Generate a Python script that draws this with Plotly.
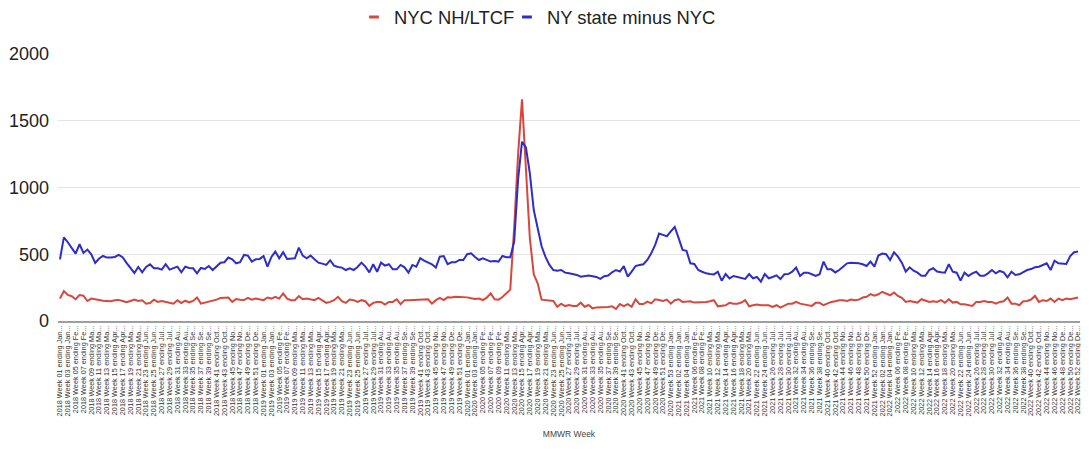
import datetime as dt
import plotly.graph_objects as go

# ---- data ----
years = [2018, 2019, 2020, 2021, 2022]
weeks_in_year = [52, 52, 53, 52, 52]
first_week_end = dt.date(2018, 1, 6)
month_short = {1: "Jan", 2: "Fe", 3: "Ma", 4: "Apr", 5: "Ma", 6: "Jun",
               7: "Jul", 8: "Au", 9: "Se", 10: "Oct", 11: "No", 12: "De"}

week_labels = []
d = first_week_end
for yr, nw in zip(years, weeks_in_year):
    for w in range(1, nw + 1):
        week_labels.append(f"{yr} Week {w:02d} ending {month_short[d.month]}...")
        d += dt.timedelta(days=7)

nyc_nh_ltcf = [
    168, 224, 195, 186, 163, 194, 190, 150, 168, 165,
    158, 152, 150, 148, 155, 158, 150, 140, 150, 160,
    150, 155, 130, 135, 160, 143, 150, 145, 140, 130,
    155, 135, 152, 140, 150, 176, 130, 138, 142, 150,
    160, 172, 176, 176, 143, 165, 160, 157, 173, 160,
    168, 160, 156, 176, 168, 181, 168, 206, 168, 156,
    156, 186, 163, 168, 163, 156, 173, 156, 136, 143,
    156, 181, 148, 136, 161, 156, 143, 156, 148, 113,
    136, 143, 143, 123, 143, 143, 163, 126, 156, 156,
    158, 160, 160, 160, 162, 130, 156, 173, 156, 178,
    176, 181, 181, 181, 177, 170, 165, 168, 157, 175,
    207, 162, 160, 180, 207, 235, 700, 1250, 1660, 1150,
    620, 350, 282, 160, 155, 150, 150, 107, 130, 112,
    120, 112, 112, 137, 107, 120, 95, 102, 102, 105,
    105, 110, 90, 127, 112, 127, 107, 162, 127, 127,
    145, 132, 162, 157, 150, 160, 130, 156, 163, 143,
    148, 148, 138, 138, 140, 143, 148, 156, 110, 113,
    118, 136, 130, 130, 138, 156, 110, 118, 123, 118,
    118, 118, 105, 118, 100, 118, 130, 130, 143, 130,
    125, 118, 113, 136, 136, 118, 130, 143, 148, 156,
    156, 150, 161, 156, 160, 176, 181, 201, 190, 200,
    219, 206, 193, 214, 188, 173, 143, 150, 143, 138,
    163, 150, 143, 148, 143, 156, 136, 163, 138, 143,
    125, 125, 118, 113, 143, 143, 150, 143, 143, 130,
    143, 148, 176, 130, 130, 118, 148, 150, 161, 188,
    143, 156, 150, 168, 143, 168, 156, 168, 163, 168,
    176,
]

ny_state_minus_nyc = [
    462, 626, 590, 545, 505, 575, 510, 535, 500, 435,
    468, 487, 475, 475, 480, 495, 478, 435, 400, 360,
    405, 365, 405, 425, 395, 395, 385, 425, 385, 395,
    407, 365, 407, 397, 395, 357, 397, 390, 412, 382,
    410, 437, 440, 475, 462, 432, 440, 495, 490, 445,
    462, 465, 487, 407, 480, 520, 470, 515, 465, 465,
    470, 550, 490, 470, 490, 462, 437, 430, 420, 455,
    415, 405, 400, 382, 395, 382, 405, 437, 407, 364,
    425, 369, 437, 415, 425, 387, 387, 420, 402, 362,
    420, 407, 470, 452, 437, 425, 400, 482, 487, 425,
    440, 440, 457, 457, 500, 507, 480, 457, 470, 457,
    445, 450, 445, 487, 477, 477, 595, 1060, 1343, 1300,
    1106, 831, 700, 560, 480, 420, 382, 377, 382, 362,
    357, 350, 345, 332, 335, 340, 335, 330, 315, 335,
    340, 365, 382, 370, 412, 332, 370, 412, 420, 425,
    457, 507, 570, 655, 645, 635, 671, 704, 621, 533,
    525, 432, 427, 382, 369, 357, 352, 349, 369, 302,
    352, 319, 337, 330, 319, 315, 352, 320, 330, 294,
    352, 320, 330, 342, 314, 350, 352, 369, 400, 337,
    362, 362, 350, 337, 350, 445, 387, 387, 364, 382,
    407, 432, 437, 437, 432, 425, 412, 445, 407, 490,
    505, 500, 457, 515, 482, 437, 369, 402, 377, 362,
    339, 339, 382, 395, 370, 365, 362, 425, 370, 362,
    302, 362, 337, 357, 369, 339, 339, 357, 382, 357,
    375, 365, 327, 369, 345, 350, 369, 382, 389, 402,
    407, 420, 432, 382, 452, 432, 432, 427, 487, 515,
    520,
]

series_names = ["NYC NH/LTCF", "NY state minus NYC"]
y_ticks = [0, 500, 1000, 1500, 2000]

RED = "#d8473b"
BLUE = "#2d2dc9"
FONT = "Liberation Sans, Arial, Helvetica, sans-serif"

fig = go.Figure()
for name, vals, col in [(series_names[0], nyc_nh_ltcf, RED),
                        (series_names[1], ny_state_minus_nyc, BLUE)]:
    fig.add_trace(go.Scatter(x=week_labels, y=vals, mode="lines", name=name,
                             line=dict(color=col, width=2), showlegend=False,
                             hoverinfo="x+y"))
# compact legend entries (short dash symbols), one small legend each
for name, col, lg in [(series_names[0], RED, "legend"),
                      (series_names[1], BLUE, "legend2")]:
    fig.add_trace(go.Scatter(x=[None], y=[None], mode="markers", name=name,
                             legend=lg,
                             marker=dict(symbol="line-ew", size=7,
                                         line=dict(color=col, width=3))))

legend_style = dict(orientation="h", xanchor="left",
                    yref="container", y=0.9796, yanchor="middle",
                    font=dict(size=18.4, color="#222222"),
                    itemwidth=30, bgcolor="rgba(0,0,0,0)")

# the page body has an 8px default margin, so the figure is sized to fit
fig.update_layout(
    width=1081, height=441,
    margin=dict(l=50, r=9, t=46, b=128, autoexpand=False),
    paper_bgcolor="white", plot_bgcolor="white",
    font=dict(family=FONT, color="#222222"),
    legend=dict(x=0.2896, **legend_style),
    legend2=dict(x=0.4393, **legend_style),
    showlegend=True,
)
fig.update_xaxes(
    type="category", categoryorder="array", categoryarray=week_labels,
    range=[-0.5, len(week_labels) - 0.5], automargin=False,
    tickmode="array", tickvals=week_labels[::2], ticktext=week_labels[::2],
    tickangle=-90, tickfont=dict(size=7.3, color="#333333"),
    showgrid=False, showline=True, linecolor="#9e9e9e", linewidth=1.5,
    ticks="", ticklen=0,
    title=dict(text="MMWR Week", font=dict(size=8.5, color="#444444"), standoff=16),
)
fig.update_yaxes(
    range=[0, 2000], tickmode="array", tickvals=y_ticks, automargin=False,
    tickfont=dict(size=18, color="#222222"),
    showgrid=True, gridcolor="#e3e3e3", gridwidth=1,
    zeroline=False, ticks="", ticklabelstandoff=8,
)

fig.write_html("out.html")
